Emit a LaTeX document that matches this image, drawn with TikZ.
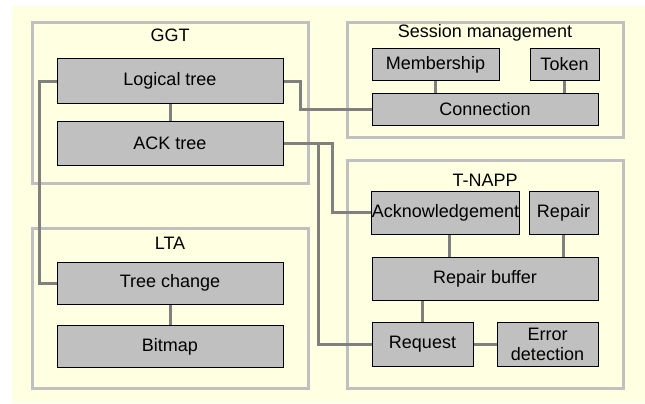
\documentclass[tikz,border=0pt]{standalone}
\usepackage{fontspec}
\setmainfont{Liberation Sans}
\usetikzlibrary{positioning}
\definecolor{bgyellow}{HTML}{FFFFE1}
\definecolor{boxgray}{HTML}{C0C0C0}
\definecolor{linegray}{HTML}{808080}

\begin{document}
\begin{tikzpicture}[x=0.75pt,y=-0.75pt,
	group/.style={draw=boxgray,line width=2.25pt,minimum width=207pt,inner sep=0pt},
	title/.style={inner sep=0pt},
	block/.style={draw=black,line width=0.75pt,fill=boxgray,inner sep=0pt,minimum height=33pt,align=center},
	link/.style={draw=linegray,line width=2.25pt},
	font=\fontsize{13.5}{14.5}\selectfont]

\useasboundingbox (0,0) rectangle (645,403);
\fill[bgyellow] (12,6) rectangle (645,403);

% groups
\node[group,minimum height=120pt]	(ggt)	at (170,103)	{};
\node[group,minimum height=120pt]	(lta)	at (170,308)	{};
\node[group,minimum height=85.5pt]	(sess)	at (485,80)	{};
\node[group,minimum height=171pt]	(tnapp)	at (485,274)	{};

\node[title]	(ggttitle)	at (170,35)	{GGT};
\node[title]	(ltatitle)	at (170,243)	{LTA};
\node[title]	(sesstitle)	at (485,33)	{Session management};
\node[title]	(tnapptitle)	at (485,180)	{T-NAPP};

% blocks
\node[block,minimum width=169.5pt]	(logical)	at (170,81)	{Logical tree};
\node[block,minimum width=169.5pt]	(ack)	at (170,143)	{ACK tree};
\node[block,minimum width=169.5pt,minimum height=31.5pt]	(treechange)	at (170,283)	{Tree change};
\node[block,minimum width=169.5pt,minimum height=31.5pt]	(bitmap)	at (170,346.5)	{Bitmap};

\node[block,minimum width=95.25pt,minimum height=23.25pt]	(membership)	at (435.5,64.5)	{Membership};
\node[block,minimum width=51.75pt,minimum height=23.25pt]	(token)	at (564.5,64.5)	{Token};
\node[block,minimum width=169.5pt,minimum height=24pt]	(connection)	at (485,109)	{Connection};

\node[block,minimum width=110.25pt,minimum height=32.25pt]	(acknowledgement)	at (445.5,212.5)	{Acknowledgement};
\node[block,minimum width=51.75pt,minimum height=32.25pt]	(repair)	at (563.5,212.5)	{Repair};
\node[block,minimum width=169.5pt,minimum height=32.25pt]	(repairbuffer)	at (485,278.5)	{Repair buffer};
\node[block,minimum width=75.75pt]	(request)	at (422.5,344)	{Request};
\node[block,minimum width=75.75pt,font=\fontsize{13.5}{15}\selectfont]	(error)	at (547.5,344)	{Error\\detection};

% links
\path[link]	(logical)	--	(ack)
		(treechange)	--	(bitmap)
		(membership)	--	(membership |- connection.north)
		(token)	--	(token |- connection.north)
		([xshift=3pt]acknowledgement.south)	--	([xshift=3pt]acknowledgement.south |- repairbuffer.north)
		(repair)	--	(repair |- repairbuffer.north)
		(request.north)	--	(request.north |- repairbuffer.south)
		(request)	--	(error);
\path[link]	(logical.west)	--	++(-17,0)	|-	(treechange.west);
\path[link]	(logical.east)	--	++(17,0)	|-	(connection.west);
\path[link]	(ack.east)	--	++(49,0)	|-	(acknowledgement.west);
\path[link]	(ack.east)	--	++(35,0)	|-	(request.west);

\end{tikzpicture}
\end{document}
